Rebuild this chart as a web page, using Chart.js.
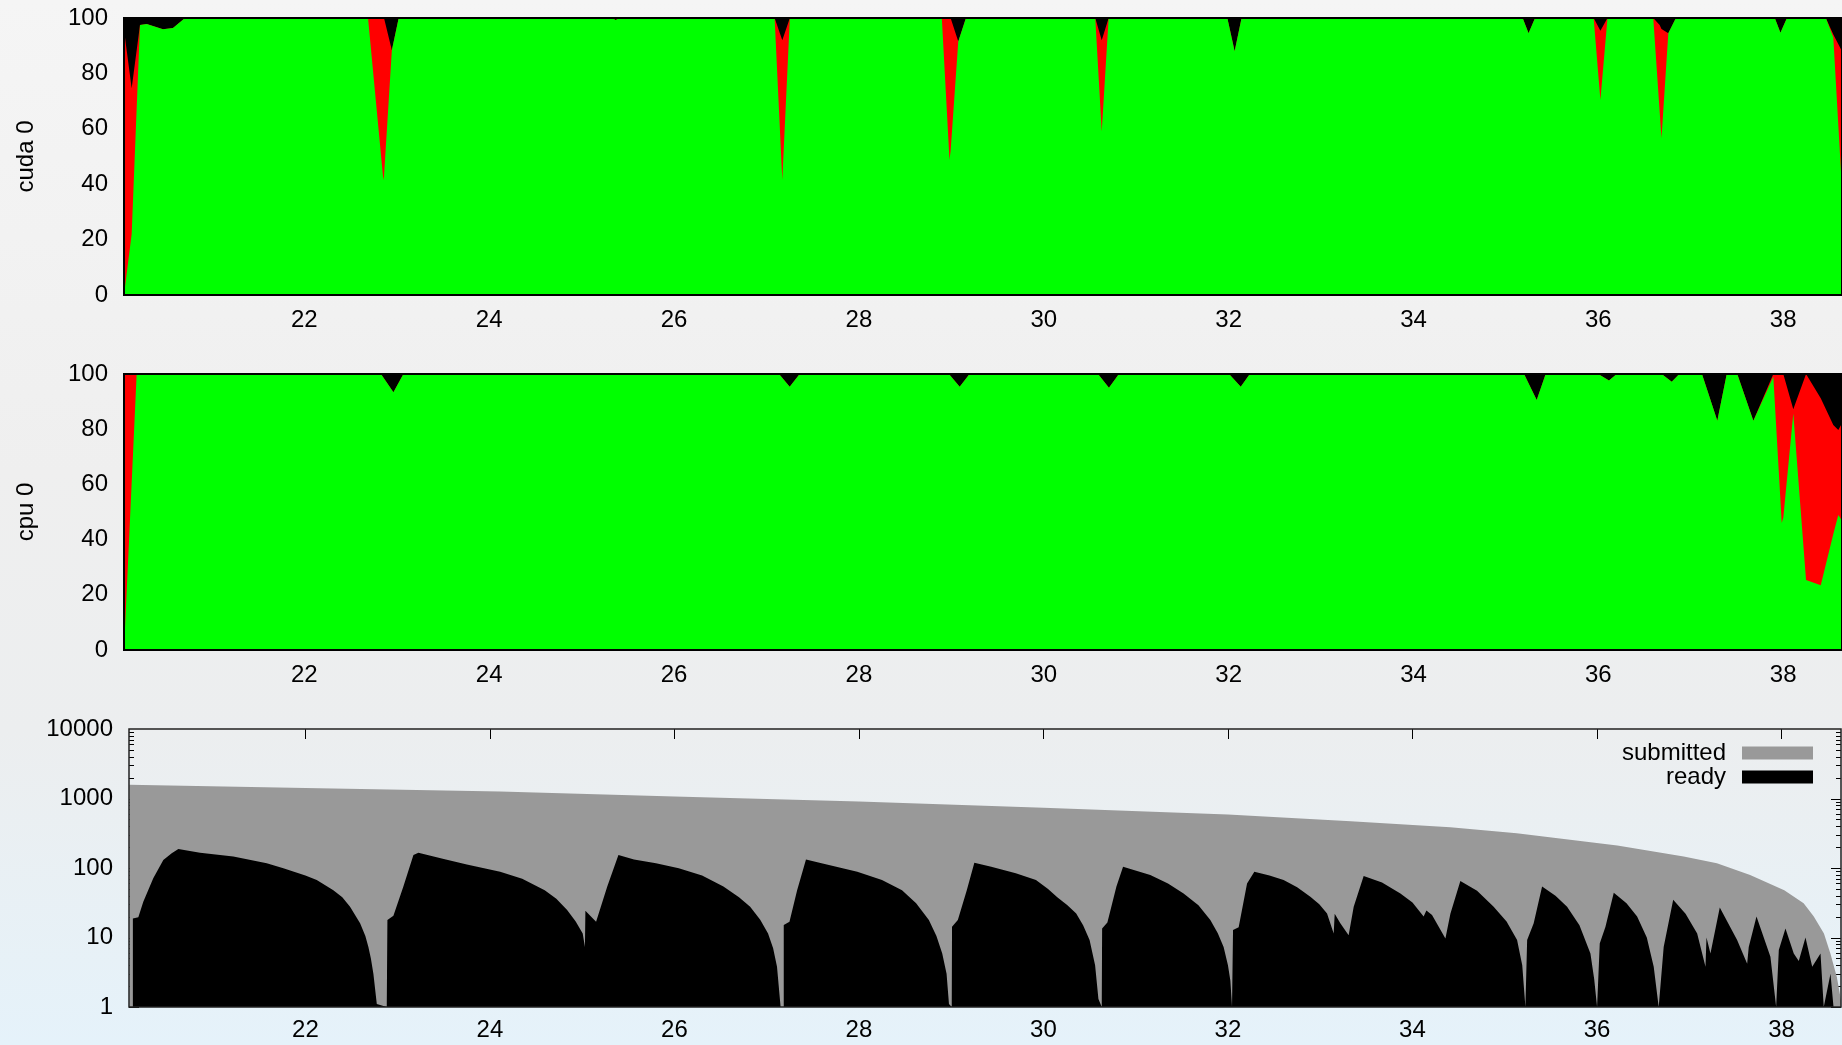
<!DOCTYPE html>
<html>
<head>
<meta charset="utf-8">
<script src="https://cdn.jsdelivr.net/npm/chart.js@4.4.1/dist/chart.umd.min.js"></script>
<style>
  html, body { margin: 0; padding: 0; }
  body {
    width: 1842px; height: 1045px; overflow: hidden; position: relative;
    background: linear-gradient(to bottom, #f5f5f5 0%, #efefef 45%, #eceeef 70%, #e5f2fa 100%);
  }
  canvas { position: absolute; left: 0; }
</style>
</head>
<body>
<canvas id="cuda" width="1842" height="359" style="top:-14px"></canvas>
<canvas id="cpu" width="1842" height="358" style="top:342px"></canvas>
<canvas id="queue" width="1842" height="348" style="top:697px"></canvas>
<script>
// values
const timeTicks = [22, 24, 26, 28, 30, 32, 34, 36, 38];
const pctTicks = [0, 20, 40, 60, 80, 100];
const countTicks = [1, 10, 100, 1000, 10000];

// cuda 0 : green / red share in %, the rest up to 100 is black
const cudaTime = [20.049, 20.132, 20.222, 20.295, 20.471, 20.579, 20.709, 22.689, 22.855, 22.862, 22.947, 23.021,
  25.33, 25.369, 25.41, 27.088, 27.171, 27.253, 28.897, 28.98, 28.992, 29.075, 29.158, 30.557, 30.627, 30.702,
  31.986, 32.065, 32.14, 35.181, 35.245, 35.315, 35.949, 36.022, 36.099, 36.594, 36.663, 36.683, 36.757, 36.839,
  37.909, 37.97, 38.04, 38.461, 38.542, 38.636];
const cudaGreen = [0, 22, 97.5, 97.8, 95.9, 96.4, 100, 100, 41.5, 43, 88.4, 100,
  100, 99.3, 100, 100, 41.5, 100, 100, 48.7, 52, 91.5, 100, 100, 59, 100,
  100, 88, 100, 100, 94.5, 100, 100, 70.4, 100, 100, 66.3, 56.6, 94.5, 100,
  100, 94.7, 100, 100, 93, 38];
const cudaRed = [95.7, 52.6, 0, 0, 0, 0, 0, 0, 58.5, 57, 0, 0,
  0, 0, 0, 0, 50.5, 0, 0, 51.3, 48, 0, 0, 0, 33, 0,
  0, 0, 0, 0, 0, 0, 0, 25, 0, 0, 31.2, 39.4, 0, 0,
  0, 0, 0, 0, 1, 50];

// cpu 0
const cpuTime = [20.049, 20.186, 22.829, 22.964, 23.072, 27.136, 27.251, 27.359, 28.974, 29.09, 29.197,
  30.587, 30.705, 30.813, 32.005, 32.131, 32.229, 35.196, 35.333, 35.43, 35.999, 36.115, 36.199,
  36.685, 36.794, 36.876, 37.121, 37.287, 37.389, 37.503, 37.677, 37.893, 37.984, 38.001, 38.109,
  38.247, 38.406, 38.542, 38.596, 38.633];
const cpuGreen = [0, 100, 100, 93.4, 100, 100, 95.4, 100, 100, 95.4, 100,
  100, 95, 100, 100, 95.4, 100, 100, 90.6, 100, 100, 97.6, 100,
  100, 97.2, 100, 100, 83.1, 100, 100, 83.1, 99, 46, 48, 85.7,
  25.4, 23.5, 42, 48.9, 47];
const cpuRed = [100, 0, 0, 0, 0, 0, 0, 0, 0, 0, 0,
  0, 0, 0, 0, 0, 0, 0, 0, 0, 0, 0, 0,
  0, 0, 0, 0, 0, 0, 0, 0, 1, 54, 52, 1.5,
  74.6, 67.7, 39.5, 30.8, 35];

// task counts (log scale)
const submittedTime = [20.09, 22.0, 24.11, 26.0, 28.0, 30.0, 32.0, 33.33, 34.41, 35.13, 36.22, 36.94,
  37.3, 37.66, 38.03, 38.24, 38.35, 38.46, 38.53, 38.6, 38.645];
const submittedCount = [1574, 1420, 1259, 1070, 904, 735, 590, 470, 385, 315, 210, 146,
  117, 79, 48, 31, 20, 11.4, 5.9, 2.7, 1.25];

const readyTime = [
  20.09, 20.125, 20.13, 20.189, 20.243, 20.351, 20.46, 20.551, 20.623, 20.858, 21.219, 21.581, 21.761, 22.0, 22.123, 22.303, 22.4, 22.484, 22.593, 22.65, 22.683, 22.71, 22.737, 22.774, 22.882,
  22.889, 22.954, 23.062, 23.171, 23.225, 23.5, 23.75, 24.111, 24.35, 24.594, 24.72, 24.837, 24.93, 25.006, 25.03,
  25.035, 25.151, 25.272, 25.393, 25.562, 25.8, 26.047, 26.3, 26.531, 26.7, 26.821, 26.93, 27.015, 27.07, 27.112, 27.151, 27.179,
  27.185, 27.247, 27.33, 27.426, 27.595, 27.982, 28.25, 28.467, 28.62, 28.758, 28.84, 28.903, 28.95, 28.976, 29.006,
  29.009, 29.072, 29.169, 29.251, 29.434, 29.7, 29.919, 30.05, 30.15, 30.26, 30.355, 30.43, 30.5, 30.56, 30.596, 30.632,
  30.636, 30.693, 30.791, 30.863, 31.158, 31.35, 31.519, 31.68, 31.809, 31.89, 31.953, 32.0, 32.026, 32.044, 32.053,
  32.055, 32.116, 32.207, 32.286, 32.45, 32.603, 32.75, 32.893, 32.99, 33.074, 33.146, 33.157, 33.218, 33.308,
  33.363, 33.471, 33.67, 33.869, 34.0, 34.121, 34.151, 34.212, 34.357,
  34.411, 34.519, 34.7, 34.88, 35.02, 35.134, 35.19, 35.224,
  35.243, 35.314, 35.405, 35.55, 35.676, 35.81, 35.929, 35.97, 36.001,
  36.03, 36.092, 36.182, 36.32, 36.435, 36.54, 36.615, 36.669,
  36.723, 36.826, 36.96, 37.086, 37.176, 37.187, 37.23,
  37.331, 37.519, 37.628, 37.645,
  37.729, 37.88, 37.942,
  37.971, 38.043, 38.133, 38.187, 38.26, 38.333, 38.423, 38.458, 38.531, 38.564, 38.645];
const readyCount = [
  1, 1, 18.8, 19.5, 32.7, 71, 130, 163, 188, 166, 146, 117, 99, 78, 67, 48, 38, 27.7, 16, 10.5, 7.3, 5, 3, 1.1, 1,
  17.8, 20.5, 54, 154, 166, 135, 112, 88, 70, 48, 36, 24.8, 17, 11.4, 7.3,
  24.2, 16.8, 54, 154, 133, 117, 99, 78, 54, 38, 27.7, 18, 11.4, 7, 3.8, 1, 1,
  15.1, 16.8, 48, 133, 117, 88, 67, 48, 31, 17.8, 10.5, 5.9, 3, 1.1, 1,
  14.3, 17.8, 48, 119, 104, 84, 67, 50, 38, 29, 22.2, 15, 9.2, 4, 1.3, 1,
  13.5, 16.5, 54, 104, 79, 60, 43, 29, 17.8, 11.5, 7.3, 4, 2.4, 1, 1,
  12.8, 14, 60, 88, 78, 67, 53, 38.6, 30, 22.2, 11.4, 22, 16, 10.8,
  27.7, 77, 62, 43, 32, 20, 24.5, 21, 9.7,
  22, 65, 47, 27.7, 17, 9.2, 4, 1,
  9.2, 16, 54, 40, 27.7, 15, 5.9, 2.5, 1,
  8.2, 14.3, 44, 31, 20, 10, 3.8, 1,
  7.3, 35, 22, 11.4, 3.8, 10, 5.9,
  27, 9.2, 4.2, 7.3,
  20, 5.3, 1,
  6.6, 13.5, 5.9, 4.6, 10, 3.8, 5.9, 1, 3, 1, 1];

Chart.defaults.font.family = '"Liberation Sans", Arial, Helvetica, sans-serif';
Chart.defaults.font.size = 24;
Chart.defaults.color = '#000';

const toPoints = (xs, ys) => xs.map((x, i) => ({ x: x, y: ys[i] }));

// black frame drawn over the filled areas
const frame = {
  id: 'frame',
  afterDatasetsDraw(chart, args, opts) {
    const { ctx, chartArea: a } = chart;
    ctx.save();
    ctx.strokeStyle = opts.color;
    ctx.lineWidth = opts.width;
    ctx.strokeRect(a.left, a.top, a.right - a.left, a.bottom - a.top);
    ctx.restore();
  }
};

// inward tick marks (gnuplot style), drawn under the data
const inTicks = {
  id: 'inTicks',
  beforeDatasetsDraw(chart) {
    const { ctx, chartArea: a, scales } = chart;
    const x = scales.x, y = scales.y;
    ctx.save();
    ctx.strokeStyle = '#000';
    ctx.lineWidth = 1;
    ctx.beginPath();
    timeTicks.forEach(v => {
      const px = Math.round(x.getPixelForValue(v)) + 0.5;
      ctx.moveTo(px, a.top); ctx.lineTo(px, a.top + 10);
      ctx.moveTo(px, a.bottom); ctx.lineTo(px, a.bottom - 10);
    });
    for (let d = 1; d < 10000; d *= 10) {
      for (let m = 1; m < 10; m++) {
        const py = Math.round(y.getPixelForValue(d * m)) + 0.5;
        const len = m === 1 ? 10 : 5;
        ctx.moveTo(a.left, py); ctx.lineTo(a.left + len, py);
        ctx.moveTo(a.right, py); ctx.lineTo(a.right - len, py);
      }
    }
    ctx.stroke();
    ctx.restore();
  }
};

// key in the upper right corner: label, then swatch
const keyBox = {
  id: 'keyBox',
  afterDatasetsDraw(chart) {
    const { ctx, chartArea: a } = chart;
    const items = chart.data.datasets.slice().sort((p, q) => q.order - p.order);
    ctx.save();
    ctx.font = '24px "Liberation Sans", Arial, sans-serif';
    ctx.textAlign = 'right';
    ctx.textBaseline = 'middle';
    items.forEach((ds, i) => {
      const cy = a.top + 24 + i * 24;
      ctx.fillStyle = '#000';
      ctx.fillText(ds.label, a.right - 115, cy);
      ctx.fillStyle = ds.backgroundColor;
      ctx.fillRect(a.right - 99, cy - 6.5, 71, 13);
    });
    ctx.restore();
  }
};

function xAxis(min, max, axisH, pad) {
  return {
    type: 'linear', min: min, max: max,
    grid: { display: false, drawTicks: false },
    border: { display: false },
    afterBuildTicks: s => { s.ticks = timeTicks.map(v => ({ value: v })); },
    afterFit: s => { s.height = axisH; },
    ticks: { padding: pad, maxRotation: 0, autoSkip: false }
  };
}

function loadPanel(id, xs, green, red, title) {
  const idle = green.map((g, i) => 100 - g - red[i]);
  return new Chart(document.getElementById(id), {
    type: 'line',
    data: {
      datasets: [
        { label: 'green', data: toPoints(xs, green), backgroundColor: '#00ff00', fill: 'origin' },
        { label: 'red', data: toPoints(xs, red), backgroundColor: '#ff0000', fill: 'origin' },
        { label: 'idle', data: toPoints(xs, idle), backgroundColor: '#000000', fill: 'origin' }
      ]
    },
    options: {
      responsive: false, animation: false, events: [],
      layout: { padding: { top: 32, right: 0, bottom: 0, left: 0 } },
      elements: {
        point: { radius: 0 },
        line: { borderWidth: 0, borderColor: 'rgba(0,0,0,0)', tension: 0 }
      },
      plugins: {
        legend: { display: false }, tooltip: { enabled: false },
        frame: { color: '#000', width: 2 }
      },
      scales: {
        x: xAxis(20.049, 38.636, 50, 11),
        y: {
          stacked: true, min: 0, max: 100,
          grid: { display: false, drawTicks: false },
          border: { display: false },
          afterBuildTicks: s => { s.ticks = pctTicks.map(v => ({ value: v })); },
          afterFit: s => { s.width = 124; },
          ticks: { padding: 16 },
          title: { display: true, text: title, padding: { top: 12, bottom: 0 } }
        }
      }
    },
    plugins: [frame]
  });
}

loadPanel('cuda', cudaTime, cudaGreen, cudaRed, 'cuda 0');
loadPanel('cpu', cpuTime, cpuGreen, cpuRed, 'cpu 0');

new Chart(document.getElementById('queue'), {
  type: 'line',
  data: {
    datasets: [
      { label: 'submitted', order: 2, data: toPoints(submittedTime, submittedCount), backgroundColor: '#999999', fill: 'start' },
      { label: 'ready', order: 1, data: toPoints(readyTime, readyCount), backgroundColor: '#000000', fill: 'start' }
    ]
  },
  options: {
    responsive: false, animation: false, events: [],
    layout: { padding: { top: 32, right: 1, bottom: 0, left: 0 } },
    elements: {
      point: { radius: 0 },
      line: { borderWidth: 0, borderColor: 'rgba(0,0,0,0)', tension: 0 }
    },
    plugins: {
      legend: { display: false }, tooltip: { enabled: false },
      frame: { color: '#222', width: 1.5 }
    },
    scales: {
      x: xAxis(20.088, 38.645, 38, 9),
      y: {
        type: 'logarithmic', min: 1, max: 10000,
        grid: { display: false, drawTicks: false },
        border: { display: false },
        afterBuildTicks: s => { s.ticks = countTicks.map(v => ({ value: v })); },
        afterFit: s => { s.width = 129; },
        ticks: { padding: 16, callback: v => String(v) }
      }
    }
  },
  plugins: [inTicks, frame, keyBox]
});
</script>
</body>
</html>
